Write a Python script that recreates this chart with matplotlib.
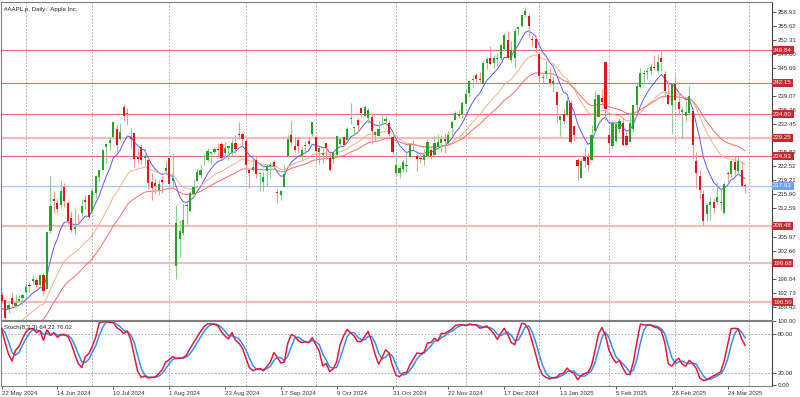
import matplotlib
matplotlib.use("Agg")
import matplotlib.pyplot as plt
import matplotlib.transforms as mtransforms
import numpy as np
import pandas as pd

plt.rcParams['font.family'] = ['Liberation Sans', 'DejaVu Sans']

# trading calendar (#AAPL.p daily bars)
holidays = ['2024-05-27', '2024-06-19', '2024-07-04', '2024-09-02', '2024-11-28',
            '2024-12-25', '2025-01-01', '2025-01-09', '2025-01-20', '2025-02-17']
dates = pd.bdate_range('2024-05-22', '2025-03-31', freq='C', holidays=holidays)

opens = [
    192.27, 190.98, 188.82, 191.51, 189.61, 190.76, 191.44,
    192.90, 194.64, 195.40, 195.69, 194.65, 196.90, 193.65, 207.37, 214.74, 213.85, 213.37, 217.59, 213.93, 210.39, 207.72, 209.15, 211.50, 214.69, 215.77,
    212.09, 216.15, 220.00, 221.65, 227.09, 227.93, 229.30, 231.39, 228.92, 236.48, 235.00, 229.45, 230.28, 224.82, 227.01, 224.37, 224.00, 218.93, 218.70, 216.96, 219.19, 221.44,
    224.37, 219.15, 199.09, 205.30, 206.90, 213.11, 212.10, 216.07, 219.01, 220.57, 224.60, 223.92, 225.72, 225.77, 226.52, 227.79, 225.66, 226.76, 226.00, 227.92, 230.10, 230.19,
    228.55, 221.66, 221.63, 223.95, 220.82, 218.92, 221.46, 222.50, 223.58, 216.54, 215.75, 217.55, 224.99, 229.97, 227.34, 228.65, 224.93, 227.30, 228.46, 230.04,
    229.52, 225.89, 225.14, 227.90, 224.50, 224.30, 225.23, 227.78, 229.30, 228.70, 233.61, 231.60, 233.43, 236.18, 234.45, 233.89, 234.08, 229.98, 229.74, 233.32, 233.10, 232.61, 229.34,
    220.97, 220.99, 221.80, 222.61, 224.63, 227.17, 225.00, 224.55, 224.01, 225.02, 226.40, 225.25, 226.98, 228.06, 228.88, 228.06, 231.46, 233.33, 234.47, 234.81,
    237.27, 239.81, 242.87, 243.99, 242.91, 241.83, 246.89, 247.96, 246.89, 247.82, 247.99, 250.08, 252.16, 247.50, 248.04, 254.77, 255.49, 258.19, 257.83, 252.23, 252.44,
    248.93, 243.36, 244.31, 242.98, 241.92, 240.01, 233.53, 234.75, 234.64, 237.35, 232.12, 224.00, 219.79, 224.74, 224.78, 224.02, 230.85, 234.12, 238.67, 247.19,
    229.99, 227.25, 228.53, 231.29, 232.60, 229.57, 228.20, 231.20, 236.91, 241.25, 244.15, 244.66, 244.94, 245.95, 244.93, 248.00, 244.33, 239.41, 236.95,
    241.79, 237.71, 235.42, 234.44, 235.11, 235.54, 223.81, 220.14, 215.95, 211.25, 213.31, 214.16, 214.22, 213.99, 211.56, 221.00, 220.77, 223.51, 221.39, 221.67, 218.20,
]
highs = [
    192.82, 191.00, 190.58, 193.00, 192.25, 192.18, 192.57,
    194.99, 195.32, 196.90, 196.50, 196.94, 197.30, 207.16, 220.20, 216.75, 215.17, 218.95, 218.63, 214.24, 211.89, 212.70, 211.38, 214.86, 215.74, 216.07,
    217.51, 220.38, 221.55, 226.45, 227.85, 229.40, 233.08, 232.39, 232.64, 237.23, 236.27, 231.46, 230.44, 226.80, 227.78, 226.94, 224.80, 220.85, 219.49, 219.30, 220.33, 223.82,
    224.48, 225.60, 213.50, 209.99, 213.64, 214.20, 216.78, 219.51, 221.89, 223.03, 225.35, 226.83, 225.99, 227.17, 227.98, 228.34, 228.22, 227.28, 228.85, 229.86, 232.92, 230.40,
    229.00, 221.78, 225.48, 225.24, 221.27, 221.48, 223.09, 223.55, 224.04, 217.22, 216.90, 222.71, 229.82, 233.09, 229.45, 229.35, 227.29, 228.50, 229.52, 233.00,
    229.65, 227.37, 226.81, 228.00, 225.69, 225.98, 229.75, 229.50, 229.41, 231.73, 237.49, 232.12, 233.85, 236.18, 236.85, 236.22, 235.14, 230.82, 233.22, 234.73, 234.33, 233.47, 229.83,
    225.35, 222.79, 223.95, 226.07, 227.88, 228.66, 225.70, 225.59, 226.65, 228.87, 226.92, 229.74, 230.16, 229.93, 230.16, 230.72, 233.25, 235.57, 235.69, 237.81,
    240.79, 242.76, 244.11, 244.54, 244.63, 247.24, 248.21, 250.80, 248.74, 249.29, 251.38, 253.83, 254.28, 252.00, 255.00, 255.65, 258.21, 260.10, 258.70, 253.50, 253.28,
    249.10, 244.18, 247.33, 245.55, 243.71, 240.16, 234.67, 236.12, 238.96, 238.01, 232.29, 224.42, 224.12, 227.03, 225.63, 232.15, 240.19, 239.86, 240.79, 247.19,
    231.83, 233.13, 232.67, 233.80, 234.00, 230.59, 235.23, 236.96, 242.34, 245.55, 245.18, 246.01, 246.78, 248.69, 248.86, 250.00, 244.98, 242.46, 242.09,
    244.03, 240.07, 236.55, 237.86, 241.37, 236.16, 225.84, 221.75, 216.84, 213.95, 215.22, 215.15, 218.76, 217.49, 218.84, 221.48, 224.10, 225.02, 224.99, 223.81, 218.60,
]
lows = [
    190.27, 186.63, 188.04, 189.10, 189.51, 190.63, 189.91,
    192.52, 193.03, 194.87, 194.17, 194.14, 192.15, 193.63, 206.90, 211.60, 211.30, 212.72, 213.00, 208.85, 207.11, 206.59, 208.61, 210.64, 212.35, 210.30,
    211.92, 215.10, 219.03, 221.65, 223.25, 226.37, 229.25, 225.77, 228.68, 233.09, 232.33, 226.64, 222.27, 223.28, 223.09, 222.68, 217.13, 214.62, 216.01, 215.75, 216.12, 220.63,
    217.02, 217.71, 196.00, 201.07, 206.39, 208.83, 211.97, 215.60, 219.01, 219.70, 222.76, 223.65, 223.04, 225.45, 225.05, 223.90, 224.33, 223.89, 224.89, 225.68, 228.88, 227.48,
    221.17, 217.48, 221.52, 219.77, 216.71, 216.73, 217.89, 219.82, 221.91, 213.92, 214.50, 217.54, 224.63, 227.62, 225.81, 225.73, 224.02, 225.41, 227.30, 229.65,
    223.74, 223.02, 223.32, 224.13, 221.33, 223.25, 224.83, 227.17, 227.34, 228.60, 232.37, 229.84, 230.52, 234.01, 234.45, 232.60, 227.76, 228.41, 229.57, 232.55, 232.32, 229.55, 225.37,
    220.27, 219.71, 221.14, 221.19, 224.57, 226.41, 221.50, 223.36, 222.76, 225.00, 224.27, 225.17, 226.66, 225.89, 225.71, 228.06, 229.74, 233.33, 233.81, 233.97,
    237.16, 238.90, 241.25, 242.13, 242.08, 241.75, 245.34, 246.26, 245.68, 246.24, 247.65, 249.78, 247.74, 247.09, 245.69, 253.45, 255.29, 257.63, 253.06, 250.75, 249.43,
    241.82, 241.89, 243.20, 241.35, 240.05, 233.00, 229.72, 232.47, 234.43, 228.03, 228.48, 219.38, 219.79, 222.30, 221.41, 223.98, 230.81, 234.01, 237.21, 233.44,
    225.70, 226.65, 228.27, 230.43, 227.26, 227.20, 228.13, 230.68, 235.57, 240.99, 241.84, 243.16, 244.29, 245.22, 244.42, 244.91, 239.13, 237.06, 230.20,
    236.11, 234.68, 229.23, 233.16, 234.76, 224.22, 217.45, 214.91, 208.42, 209.58, 209.97, 211.49, 213.75, 212.22, 211.28, 218.58, 220.08, 220.47, 220.56, 217.68, 216.30,
]
closes = [
    190.90, 186.88, 189.98, 189.99, 190.29, 191.29, 192.25,
    194.03, 194.35, 195.87, 194.48, 196.89, 193.12, 207.15, 213.07, 214.24, 212.49, 216.67, 214.29, 209.68, 207.49, 208.14, 209.07, 213.25, 214.10, 210.62,
    216.75, 220.27, 221.55, 226.34, 227.82, 228.68, 232.98, 227.57, 230.54, 234.40, 234.82, 228.88, 224.18, 224.31, 223.96, 225.01, 218.54, 217.49, 217.96, 218.24, 218.80, 222.08,
    218.36, 219.86, 209.27, 207.23, 209.82, 213.31, 216.24, 217.53, 221.27, 221.72, 224.72, 226.05, 225.89, 226.51, 226.40, 224.53, 226.84, 227.18, 228.03, 226.49, 229.79, 229.00,
    222.77, 220.85, 222.38, 220.82, 220.91, 220.11, 222.66, 222.77, 222.50, 216.32, 216.79, 220.69, 228.87, 228.20, 226.47, 227.37, 226.37, 227.52, 227.79, 233.00,
    226.21, 226.78, 225.67, 226.80, 221.69, 225.77, 229.54, 229.04, 227.55, 231.30, 233.85, 231.78, 232.15, 235.00, 236.48, 235.86, 230.76, 230.57, 231.41, 233.40, 233.67, 230.10, 225.91,
    222.91, 222.01, 223.45, 222.72, 227.48, 226.96, 224.23, 224.23, 225.12, 228.22, 225.00, 228.02, 228.28, 229.00, 228.52, 229.87, 232.87, 235.06, 234.93, 237.33,
    239.59, 242.65, 243.01, 243.04, 242.84, 246.75, 247.77, 246.49, 247.96, 248.13, 251.04, 253.48, 248.05, 249.79, 254.49, 255.27, 258.20, 259.02, 255.59, 252.20, 250.42,
    243.85, 243.36, 245.00, 242.21, 242.70, 236.85, 234.40, 233.28, 237.87, 228.26, 229.98, 222.64, 223.83, 223.66, 222.78, 229.86, 238.26, 239.36, 237.59, 236.00,
    228.01, 232.80, 232.47, 233.22, 227.63, 227.65, 232.62, 236.87, 241.53, 244.60, 244.47, 244.87, 245.83, 245.55, 247.10, 247.04, 240.36, 237.30, 241.84,
    238.03, 235.93, 235.74, 235.33, 239.07, 227.48, 220.84, 216.98, 209.68, 213.49, 214.00, 212.69, 215.24, 214.10, 218.27, 220.73, 223.75, 221.53, 223.85, 217.90, 217.93,
]

# bars before the visible window (Apr 1 - May 21 2024), used only to warm up indicators
pre_highs = [171.25, 169.34, 170.68, 170.30, 170.39, 169.03, 170.08, 169.09, 175.46, 178.36, 176.63,
             173.76, 170.65, 168.64, 166.40, 167.26, 167.05, 169.30, 170.61, 171.34, 176.03, 174.99,
             172.71, 173.42, 187.00, 184.20, 184.90, 183.07, 184.66, 185.09, 187.10, 188.30, 190.65,
             191.10, 190.81, 191.92, 192.73]
pre_lows = [169.48, 168.23, 168.58, 168.66, 168.95, 167.58, 168.35, 167.11, 168.16, 174.21, 172.50,
            168.27, 168.00, 166.55, 164.08, 164.77, 164.92, 166.21, 168.15, 169.18, 173.10, 170.00,
            169.11, 170.89, 182.66, 180.42, 181.32, 181.45, 182.11, 182.13, 184.62, 186.29, 187.37,
            189.66, 189.18, 189.01, 190.92]
pre_closes = [170.03, 168.84, 169.65, 168.82, 169.58, 168.45, 169.67, 167.78, 175.04, 176.55, 172.69,
              169.38, 168.00, 167.04, 165.00, 165.84, 166.90, 169.02, 169.89, 169.30, 173.50, 170.33,
              169.30, 173.03, 183.38, 181.71, 182.40, 182.74, 184.57, 183.05, 186.28, 187.43, 189.72,
              189.84, 189.87, 191.04, 192.35]

ma_periods = [8, 21, 34]
ma_colors = ['#5a5aff', '#f6b08a', '#ff6a6a']

levels_dark = [249.84, 242.15, 234.80, 224.93]
levels_light = [229.25, 208.48, 199.68, 190.50]
bid = 217.93

price_ticks = [258.93, 255.62, 252.31, 249.00, 245.69, 242.38, 239.07, 235.76, 232.45, 229.14,
               225.83, 222.52, 219.21, 215.90, 212.59, 209.28, 205.97, 202.66, 199.35, 196.04,
               192.73, 189.42]
stoch_ticks = [100, 80, 20, 0]
date_labels = ['22 May 2024', '14 Jun 2024', '10 Jul 2024', '1 Aug 2024', '23 Aug 2024',
               '17 Sep 2024', '9 Oct 2024', '31 Oct 2024', '22 Nov 2024', '17 Dec 2024',
               '13 Jan 2025', '5 Feb 2025', '28 Feb 2025', '24 Mar 2025']

n = len(dates)
x = np.arange(n)
o = np.array(opens); h = np.array(highs); l = np.array(lows); c = np.array(closes)

all_c = pd.Series(pre_closes + closes)
all_h = pd.Series(pre_highs + highs)
all_l = pd.Series(pre_lows + lows)
k0 = len(pre_closes)

# Stochastic (8,3,3)
hh = all_h.rolling(8).max()
ll = all_l.rolling(8).min()
main_full = (all_c - ll).rolling(3).sum() / (hh - ll).rolling(3).sum() * 100
stoch_main = main_full.values[k0:]
stoch_sig = main_full.rolling(3).mean().values[k0:]

W, H = 800, 397
fig = plt.figure(figsize=(W / 100, H / 100), dpi=100)
fig.patch.set_facecolor('white')
ax = fig.add_axes([0.5 / W, (H - 319.5) / H, 771.5 / W, 317.5 / H])
ax2 = fig.add_axes([0.5 / W, (H - 386) / H, 771.5 / W, 65.5 / H])

xlim = (-0.3, 220.7)
for a in (ax, ax2):
    a.set_xlim(*xlim)
    for s in a.spines.values():
        s.set_color('#808080')
        s.set_linewidth(0.8)
    a.spines['right'].set_color('#404040')

# month separators (first bar of each month, plus next month start)
months = dates.month
grid_x = [i for i in range(1, n) if months[i] != months[i - 1]] + [n]
for a in (ax, ax2):
    for gx in grid_x:
        a.axvline(gx, color='#9a9a9a', lw=0.6, ls=(0, (2, 2)), zorder=0)

# price levels
for lv in levels_light:
    ax.axhline(lv, color='#f3bcbc', lw=1.6, zorder=1)
for lv in levels_dark:
    ax.axhline(lv, color='#d65858', lw=0.8, alpha=0.85, zorder=1)
ax.axhline(bid, color='#a9c6f2', lw=0.9, zorder=1)

# moving averages
for p, col in zip(ma_periods, ma_colors):
    ma = all_c.ewm(span=p, adjust=False).mean().values[k0:]
    ax.plot(x, ma, color=col, lw=0.7, zorder=2)

# candles
up = c >= o
body_col = np.where(up, '#25a525', '#e8141c')
wick_col = np.where(up, '#8fcc8f', '#f09a9a')
ax.vlines(x, l, h, colors=wick_col, lw=0.8, zorder=3)
bottom = np.minimum(o, c)
height = np.maximum(np.abs(c - o), 0.2)
ax.bar(x, height, bottom=bottom, width=0.62, color=body_col, linewidth=0, zorder=4)

# tick labels that sit under a level box are hidden, as on the terminal
boxed = levels_dark + levels_light + [bid]
ax.set_ylim(186.45, 261.2)
ax.yaxis.tick_right()
ax.set_yticks(price_ticks)
ax.set_yticklabels(['' if min(abs(t - b) for b in boxed) < 0.82 else f'{t:.2f}'
                    for t in price_ticks])
ax.tick_params(axis='y', length=3, width=0.6, color='#404040', labelsize=4.4,
               labelcolor='#333333', pad=1)
ax.set_xticks([])

trans = mtransforms.blended_transform_factory(ax.transAxes, ax.transData)
for lv in levels_dark + levels_light:
    ax.text(1.0015, lv, f'{lv:.2f}', transform=trans, fontsize=4.4, color='white',
            va='center', ha='left', clip_on=False, zorder=6,
            bbox=dict(boxstyle='square,pad=0.25', fc='#c62a2f', ec='none'))
ax.text(1.0015, bid, f'{bid:.2f}', transform=trans, fontsize=4.4, color='white',
        va='center', ha='left', clip_on=False, zorder=6,
        bbox=dict(boxstyle='square,pad=0.25', fc='#6d9ff4', ec='none'))

ax.text(0.004, 0.985, '#AAPL.p, Daily:  Apple Inc.', transform=ax.transAxes,
        fontsize=4.4, color='#222222', va='top', ha='left')

# stochastic panel
ax2.plot(x, stoch_main, color='#e8173f', lw=1.1, zorder=3)
ax2.plot(x, stoch_sig, color='#2f93f5', lw=1.1, zorder=2)
for lv in (80, 20):
    ax2.axhline(lv, color='#9a9a9a', lw=0.6, ls=(0, (2, 2)), zorder=0)
ax2.set_ylim(-1, 101.5)
ax2.yaxis.tick_right()
ax2.set_yticks(stoch_ticks)
ax2.set_yticklabels([f'{t:.2f}' for t in stoch_ticks])
ax2.tick_params(axis='y', length=3, width=0.6, color='#404040', labelsize=4.4,
                labelcolor='#333333', pad=1)
ax2.text(0.004, 0.93, 'Stoch(8,3,3) 64.22 76.02', transform=ax2.transAxes,
         fontsize=4.4, color='#222222', va='top', ha='left')

label_pos = list(range(0, n, 16))[:len(date_labels)]
ax2.set_xticks(label_pos)
ax2.set_xticklabels(date_labels)
for t in ax2.get_xticklabels():
    t.set_ha('left')
ax2.tick_params(axis='x', length=2, width=0.6, color='#404040', labelsize=4.4,
                labelcolor='#333333', pad=1.5)

fig.savefig('out.png', dpi=100, facecolor='white')
